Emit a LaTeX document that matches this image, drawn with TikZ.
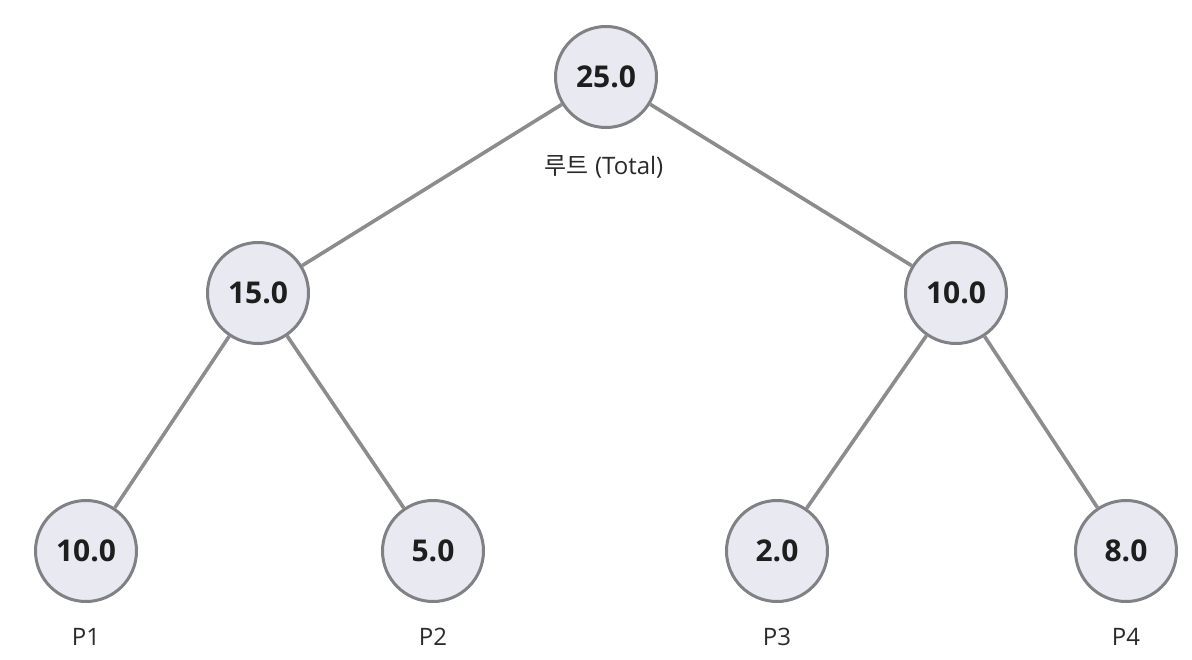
\documentclass[tikz,border=0pt]{standalone}
\usepackage{fontspec}
\setmainfont{Open Sans}
\newfontfamily\krfont{Noto Sans CJK KR}
\newfontfamily\numfont{Open Sans Bold}
\definecolor{nodefill}{HTML}{E8E9F1}
\definecolor{nodeborder}{HTML}{808184}
\definecolor{edgecol}{HTML}{8C8C8F}
\definecolor{txt}{HTML}{1E1E1E}
\definecolor{lbl}{HTML}{2A2A2A}
\begin{document}
\begin{tikzpicture}[x=1pt,y=-1pt,
  tnode/.style={circle,draw=nodeborder,line width=3pt,fill=nodefill,minimum size=101pt,inner sep=0pt,text=txt,font=\numfont\fontsize{30}{34}\selectfont},
  edge/.style={draw=edgecol,line width=3.6pt},
  lab/.style={text=lbl,font=\fontsize{24}{28}\selectfont}]
\useasboundingbox (0,0) rectangle (1192,660);
\fill[white] (0,0) rectangle (1192,660);
\node[tnode] (r) at (606,77) {25.0};
\node[tnode] (a) at (258,293) {15.0};
\node[tnode] (b) at (956,293) {10.0};
\node[tnode] (l1) at (86,551) {10.0};
\node[tnode] (l2) at (433,551) {5.0};
\node[tnode] (l3) at (777,551) {2.0};
\node[tnode] (l4) at (1126,551) {8.0};
\draw[edge] (r) -- (a);
\draw[edge] (r) -- (b);
\draw[edge] (a) -- (l1);
\draw[edge] (a) -- (l2);
\draw[edge] (b) -- (l3);
\draw[edge] (b) -- (l4);
\node[lab] (rl) at (604,167) {{\krfont 루트} (Total)};
\node[lab] (p1) at (86,637) {P1};
\node[lab] (p2) at (433,637) {P2};
\node[lab] (p3) at (777,637) {P3};
\node[lab] (p4) at (1126,637) {P4};
\end{tikzpicture}
\end{document}
